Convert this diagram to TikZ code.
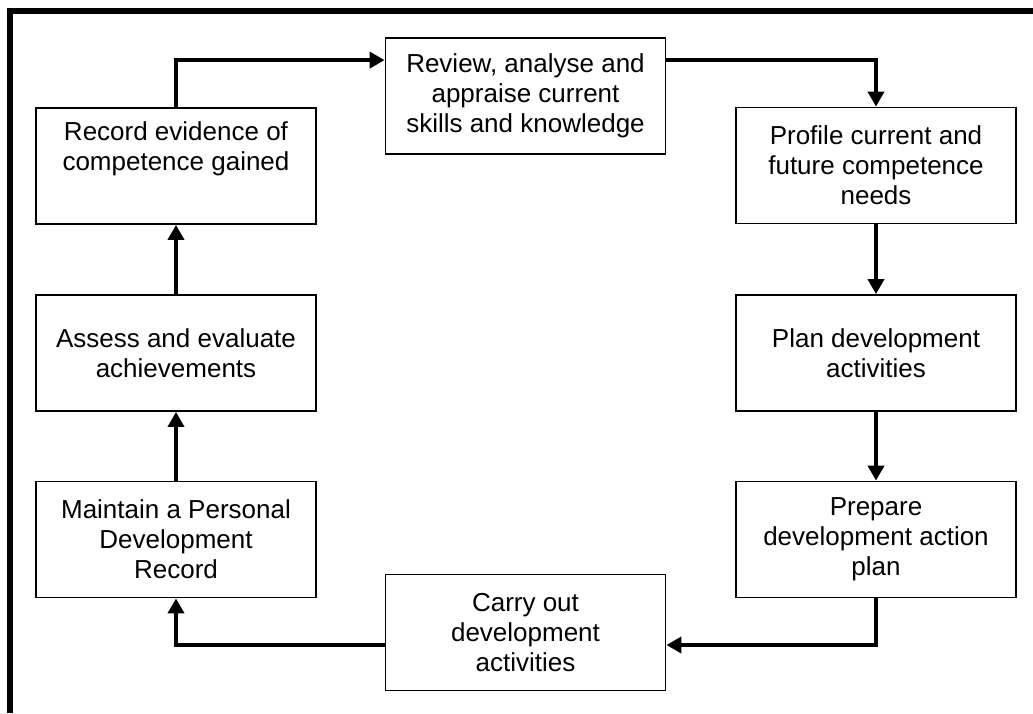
\documentclass[tikz,border=0pt]{standalone}
\usepackage{fontspec}
\setmainfont{Liberation Sans}
\usetikzlibrary{arrows.meta}
\begin{document}
\begin{tikzpicture}[x=1pt,y=-1pt,
  stepbox/.style={draw=black,line width=1.8pt,fill=white,minimum width=280pt,minimum height=116pt,
    align=center,inner sep=2pt,font=\fontsize{26}{30}\selectfont},
  flow/.style={line width=4.6pt,-{Triangle[length=15pt,width=16pt]}},
  frameline/.style={line width=5.5pt}]
\useasboundingbox (0,0) rectangle (1033,713);
\coordinate (fa) at (10,713);
\coordinate (fb) at (10,11);
\coordinate (fc) at (1033,11);
\draw[frameline] (fa) -- (fb) -- (fc);
\node[stepbox] (review) at (525.5,96) {Review, analyse and\\appraise current\\skills and knowledge};
\node[stepbox] (profile) at (876,165.5) {Profile current and\\future competence\\needs};
\node[stepbox] (plan) at (876,353) {Plan development\\activities};
\node[stepbox] (prepare) at (876,539.5) {Prepare\\development action\\plan};
\node[stepbox] (carry) at (525.5,632.5) {Carry out\\development\\activities};
\node[stepbox] (maintain) at (176,539.5) {Maintain a Personal\\Development\\Record};
\node[stepbox] (assess) at (176,353) {Assess and evaluate\\achievements};
\node[stepbox] (record) at (176,166) {Record evidence of\\competence gained\\\strut};
\draw[flow] (record.north) |- ([yshift=-23pt]review.north west);
\draw[flow] ([yshift=-23pt]review.north east) -| (profile.north);
\draw[flow] (profile.south) -- (plan.north);
\draw[flow] (plan.south) -- (prepare.north);
\draw[flow] (prepare.south) |- ([yshift=-12.5pt]carry.east);
\draw[flow] ([yshift=-12.5pt]carry.west) -| (maintain.south);
\draw[flow] (maintain.north) -- (assess.south);
\draw[flow] (assess.north) -- (record.south);
\end{tikzpicture}
\end{document}
